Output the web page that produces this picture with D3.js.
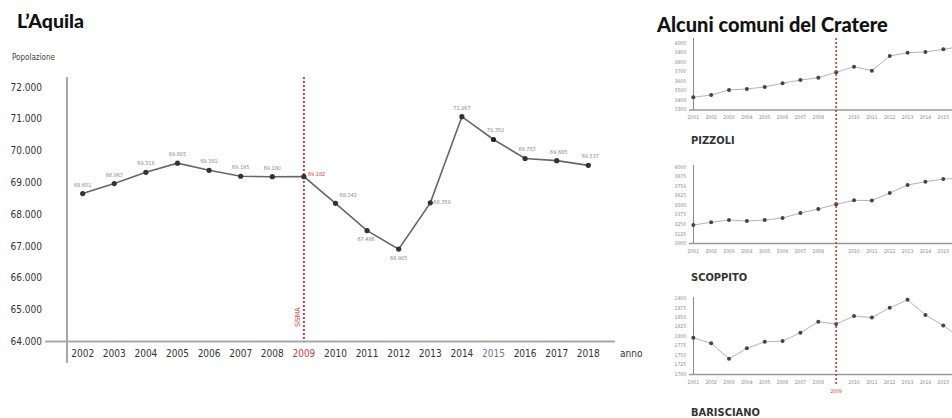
<!DOCTYPE html>
<html><head><meta charset="utf-8">
<script src="https://cdn.jsdelivr.net/npm/d3@7"></script>
<style>
html,body{margin:0;padding:0;background:#fff;}
svg{display:block;}
</style></head>
<body>
<svg id="c" width="952" height="418"></svg>
<script>
// ---- data ----
const aquilaYears = [2002,2003,2004,2005,2006,2007,2008,2009,2010,2011,2012,2013,2014,2015,2016,2017,2018];
const aquilaPop = [68651,68963,69318,69605,69381,69195,69180,69182,68342,67486,66905,68359,71067,70350,69753,69685,69537];
const aquilaTicks = [64000,65000,66000,67000,68000,69000,70000,71000,72000];

const smallYears = [2001,2002,2003,2004,2005,2006,2007,2008,2009,2010,2011,2012,2013,2014,2015,2016];
const smallYearLabels = [2001,2002,2003,2004,2005,2006,2007,2008,2010,2011,2012,2013,2014,2015];
const pizzoliPop = [3428,3452,3504,3515,3536,3575,3609,3633,3690,3749,3707,3861,3895,3903,3931,3960];
const pizzoliTicks = [3300,3400,3500,3600,3700,3800,3900,4000];
const scoppitoPop = [3239,3274,3304,3291,3304,3330,3395,3448,3509,3561,3558,3656,3761,3804,3839,3850];
const scoppitoTicks = [3000,3125,3250,3375,3500,3625,3750,3875,4000];
const bariscianoPop = [1796,1781,1740,1768,1785,1787,1809,1838,1832,1853,1849,1875,1896,1856,1828,1795];
const bariscianoTicks = [1700,1725,1750,1775,1800,1825,1850,1875,1900];
const smallNames = ["PIZZOLI","SCOPPITO","BARISCIANO"];
const quakeYear = 2009;

// ---- drawing ----
const svg = d3.select("#c");
const narrow = "'DejaVu Sans Condensed','DejaVu Sans',sans-serif";
const titleFont = "Lato,'Open Sans',sans-serif";
const red = "#cf3b3b";
const fmt = v => d3.format(",")(v).replace(/,/g, ".");

function cond(sel){ return sel.attr("font-family",narrow).style("font-stretch","condensed"); }

// Titles
svg.append("text").attr("x",17).attr("y",28).attr("font-family",titleFont).attr("font-weight",900)
  .attr("font-size",19.5).attr("fill","#111").text("L’Aquila");
svg.append("text").attr("x",657).attr("y",32).attr("font-family",titleFont).attr("font-weight",900)
  .attr("font-size",20).attr("fill","#111").text("Alcuni comuni del Cratere");
cond(svg.append("text").attr("x",12).attr("y",60)).attr("font-size",8)
  .attr("fill","#444").text("Popolazione");

// ---- main chart ----
const x = d3.scaleLinear().domain([2002,2018]).range([82.7,588.3]);
const y = d3.scaleLinear().domain([64000,72000]).range([341.5,87]);

const g = svg.append("g");
cond(g.selectAll(".yt").data(aquilaTicks).join("text")
  .attr("x",42).attr("y",d=>y(d)+3.5).attr("text-anchor","end"))
  .attr("font-size",10).attr("fill","#333").text(fmt);
g.append("line").attr("x1",67).attr("x2",67).attr("y1",77).attr("y2",363)
  .attr("stroke","#8a8a8a").attr("stroke-width",1.5);
g.append("line").attr("x1",45).attr("x2",615).attr("y1",y(64000)).attr("y2",y(64000))
  .attr("stroke","#a8a8a8").attr("stroke-width",2);
cond(g.selectAll(".xt").data(aquilaYears).join("text")
  .attr("x",d=>x(d)).attr("y",357).attr("text-anchor","middle"))
  .attr("font-size",10)
  .attr("fill",d=>d===quakeYear?red:(d===2015?"#6f6fa8":"#333")).text(d=>d);
cond(g.append("text").attr("x",620).attr("y",357)).attr("font-size",10)
  .attr("fill","#333").text("anno");

g.append("line").attr("x1",x(quakeYear)).attr("x2",x(quakeYear)).attr("y1",77).attr("y2",y(64000))
  .attr("stroke",red).attr("stroke-width",2).attr("stroke-dasharray","2,2");
cond(g.append("text").attr("transform",`translate(${x(quakeYear)-4},327) rotate(-90)`))
  .attr("font-size",7).attr("fill",red).text("SISMA");

const data = aquilaYears.map((yr,i)=>({yr,v:aquilaPop[i]}));
g.append("path").datum(data)
  .attr("d",d3.line().x(d=>x(d.yr)).y(d=>y(d.v)))
  .attr("fill","none").attr("stroke","#666").attr("stroke-width",1.6);
g.selectAll(".pt").data(data).join("circle")
  .attr("cx",d=>x(d.yr)).attr("cy",d=>y(d.v)).attr("r",2.6)
  .attr("fill",d=>d.yr===2015?"#223":"#333");
const place = {2009:[4,-1,"start"],2010:[4,-6,"start"],2011:[-1,10,"middle"],2012:[0,11,"middle"],2013:[3,1,"start"]};
cond(g.selectAll(".lbl").data(data).join("text")
  .attr("x",d=>x(d.yr)+(place[d.yr]?place[d.yr][0]:(d.yr>=2015?2:0)))
  .attr("y",d=>y(d.v)+(place[d.yr]?place[d.yr][1]:-7))
  .attr("text-anchor",d=>place[d.yr]?place[d.yr][2]:"middle"))
  .attr("font-size",5.5)
  .attr("fill",d=>d.yr===quakeYear?red:"#888").text(d=>fmt(d.v));

// ---- small charts ----
const xs = d3.scaleLinear().domain([2001,2015]).range([693.3,943.3]);
const smalls = [
  {pop:pizzoliPop,ticks:pizzoliTicks,range:[109.5,42.7],top:38,bottom:110,name:smallNames[0],nameY:144},
  {pop:scoppitoPop,ticks:scoppitoTicks,range:[243.3,166.7],top:165,bottom:243.5,name:smallNames[1],nameY:281},
  {pop:bariscianoPop,ticks:bariscianoTicks,range:[374,298.3],top:297,bottom:374.5,name:smallNames[2],nameY:416}
];
smalls.forEach(s=>{
  const ys = d3.scaleLinear().domain([s.ticks[0],s.ticks[s.ticks.length-1]]).range(s.range);
  const sg = svg.append("g");
  sg.append("line").attr("x1",693.5).attr("x2",693.5).attr("y1",s.top).attr("y2",s.bottom)
    .attr("stroke","#888").attr("stroke-width",1);
  sg.append("line").attr("x1",689).attr("x2",960).attr("y1",s.bottom).attr("y2",s.bottom)
    .attr("stroke","#999").attr("stroke-width",1.6);
  cond(sg.selectAll("text.t").data(s.ticks).join("text")
    .attr("x",686).attr("y",d=>ys(d)+1.8).attr("text-anchor","end"))
    .attr("font-size",5).attr("fill","#888").text(d=>d);
  cond(sg.selectAll("text.x").data(smallYearLabels).join("text")
    .attr("x",d=>xs(d)).attr("y",s.bottom+9).attr("text-anchor","middle"))
    .attr("font-size",5).attr("fill","#888").text(d=>d);
  const dd = smallYears.map((yr,i)=>({yr,v:s.pop[i]}));
  sg.append("path").datum(dd).attr("d",d3.line().x(d=>xs(d.yr)).y(d=>ys(d.v)))
    .attr("fill","none").attr("stroke","#aaa").attr("stroke-width",0.9);
  sg.selectAll("circle").data(dd).join("circle")
    .attr("cx",d=>xs(d.yr)).attr("cy",d=>ys(d.v)).attr("r",2).attr("fill","#444");
  cond(sg.append("text").attr("x",691).attr("y",s.nameY))
    .attr("font-weight",700).attr("font-size",11).attr("fill","#333").text(s.name);
});
svg.append("line").attr("x1",xs(quakeYear)).attr("x2",xs(quakeYear)).attr("y1",38).attr("y2",386)
  .attr("stroke",red).attr("stroke-width",1.6).attr("stroke-dasharray","2,2");
cond(svg.append("text").attr("x",xs(quakeYear)).attr("y",393).attr("text-anchor","middle"))
  .attr("font-size",5).attr("fill",red).text(quakeYear);
</script>
</body></html>
